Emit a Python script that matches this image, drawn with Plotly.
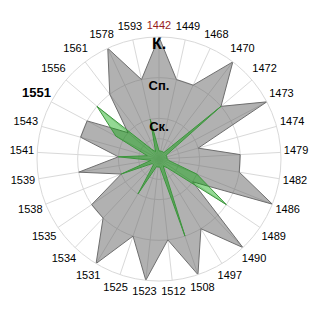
import math
import plotly.graph_objects as go

categories = ["1442", "1449", "1468", "1470", "1472", "1473", "1474", "1479", "1482",
              "1486", "1489", "1490", "1497", "1508", "1512", "1523", "1525", "1531",
              "1534", "1535", "1538", "1539", "1541", "1543", "1551", "1556", "1561",
              "1578", "1593"]

gray_values = [3, 2, 2, 3, 2, 3, 1, 2, 2,
               3, 1, 3, 2, 3, 2, 3, 2, 3,
               2, 2, 1, 2, 1, 2, 2, 1, 2,
               3, 2]

green_values = [0.2, 0.2, 0.2, 0.2, 2, 0.2, 0.2, 0.2, 0.25,
                1, 2, 0.3, 0.2, 2, 0.2, 0.2, 0.2, 1,
                0.2, 0.2, 1, 0.2, 1, 0.3, 1.2, 2, 0.3,
                0.2, 1]

level_labels = ["Ск.", "Сп.", "К."]
level_label_r = [0.76, 1.77, 2.8]
level_label_sizes = [13, 13, 16]

W = 320
R_MAX = 3.0
CX, CY = 159, 159          # chart centre (px from top-left)
OUTER_PX = 122.0           # radius of the data circle
LABEL_PX = 159.0           # radius of the (invisible) label polar
R_MAX_LABEL = R_MAX * LABEL_PX / OUTER_PX

# category label text, colour, size, radius (in data units)
label_text, label_color, label_size, label_r = [], [], [], []
n = len(categories)
for i, c in enumerate(categories):
    ang = math.radians(90 - i * 360.0 / n)
    px = 127 + 10 * abs(math.cos(ang)) + 6 * abs(math.sin(ang))
    label_r.append(px / OUTER_PX * R_MAX)
    if c == "1442":
        label_text.append(c)
        label_color.append("#9a1c1c")
        label_size.append(11)
    elif c == "1551":
        label_text.append("<b>" + c + "</b>")
        label_color.append("black")
        label_size.append(13)
    else:
        label_text.append(c)
        label_color.append("black")
        label_size.append(11)

fig = go.Figure()

fig.add_trace(go.Scatterpolar(
    r=gray_values + [gray_values[0]],
    theta=categories + [categories[0]],
    mode="lines",
    fill="toself",
    fillcolor="rgba(100,100,100,0.5)",
    line=dict(color="#6e6e6e", width=1),
    hoverinfo="skip",
    showlegend=False,
    subplot="polar",
))

fig.add_trace(go.Scatterpolar(
    r=green_values + [green_values[0]],
    theta=categories + [categories[0]],
    mode="lines",
    fill="toself",
    fillcolor="rgba(0,165,0,0.42)",
    line=dict(color="#3c963c", width=1),
    hoverinfo="skip",
    showlegend=False,
    subplot="polar",
))

fig.add_trace(go.Scatterpolar(
    r=level_label_r,
    theta=["1442"] * len(level_labels),
    mode="text",
    text=["<b>" + t + "</b>" for t in level_labels],
    textposition="middle center",
    textfont=dict(family="Liberation Sans, Arial, sans-serif", size=level_label_sizes, color="black"),
    hoverinfo="skip",
    showlegend=False,
    subplot="polar",
))

fig.add_trace(go.Scatterpolar(
    r=label_r,
    theta=categories,
    mode="text",
    text=label_text,
    textposition="middle center",
    textfont=dict(family="Liberation Sans, Arial, sans-serif", size=label_size, color=label_color),
    cliponaxis=False,
    hoverinfo="skip",
    showlegend=False,
    subplot="polar2",
))

fig.update_layout(
    width=W, height=W,
    margin=dict(l=0, r=0, t=0, b=0),
    paper_bgcolor="white",
    plot_bgcolor="white",
    font=dict(family="Liberation Sans, Arial, sans-serif", size=11, color="black"),
    polar=dict(
        bgcolor="white",
        domain=dict(x=[(CX - OUTER_PX) / W, (CX + OUTER_PX) / W],
                    y=[(W - CY - OUTER_PX) / W, (W - CY + OUTER_PX) / W]),
        angularaxis=dict(
            type="category",
            categoryorder="array",
            categoryarray=categories,
            rotation=90,
            direction="clockwise",
            showticklabels=False,
            ticks="",
            showline=True,
            linecolor="#d9d9d9",
            gridcolor="#d9d9d9",
        ),
        radialaxis=dict(
            range=[0, R_MAX],
            tickvals=[0.5, 1, 2, 3],
            showticklabels=False,
            ticks="",
            showline=False,
            gridcolor="#d9d9d9",
        ),
    ),
    polar2=dict(
        bgcolor="rgba(0,0,0,0)",
        domain=dict(x=[(CX - LABEL_PX) / W, (CX + LABEL_PX) / W],
                    y=[(W - CY - LABEL_PX) / W, (W - CY + LABEL_PX) / W]),
        angularaxis=dict(
            type="category",
            categoryorder="array",
            categoryarray=categories,
            rotation=90,
            direction="clockwise",
            showticklabels=False,
            ticks="",
            showline=False,
            showgrid=False,
        ),
        radialaxis=dict(
            range=[0, R_MAX_LABEL],
            showticklabels=False,
            ticks="",
            showline=False,
            showgrid=False,
        ),
    ),
)

fig.write_html("out.html")
